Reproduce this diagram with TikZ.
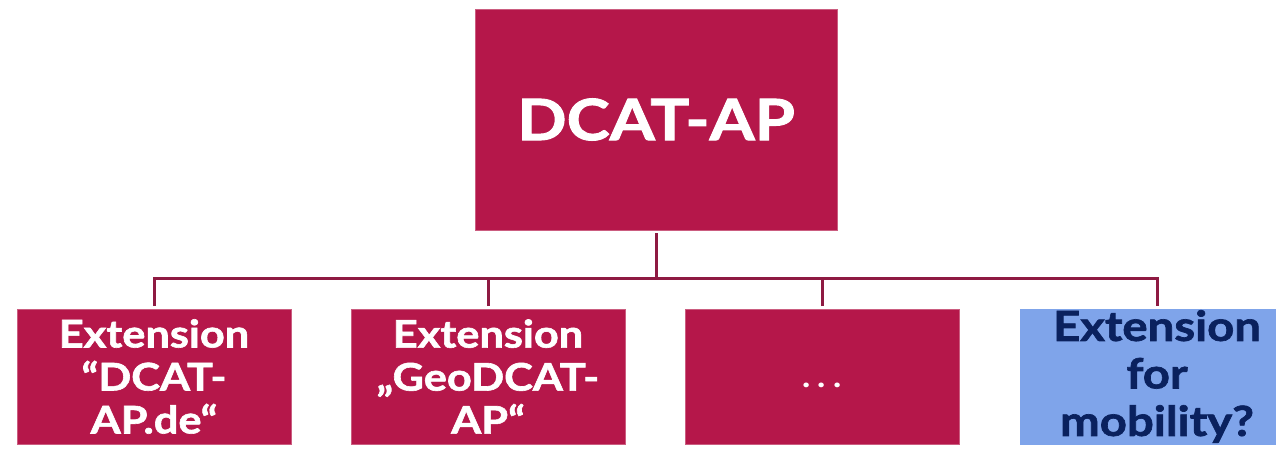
\documentclass[tikz,border=0pt]{standalone}
\usepackage{fontspec}
\setmainfont{Lato}[FakeStretch=1.14, BoldFeatures={FakeBold=1.6}]
\definecolor{crim}{HTML}{B5174A}
\definecolor{linecol}{HTML}{8E1A42}
\definecolor{lblue}{HTML}{7FA4EA}
\definecolor{navy}{HTML}{0A215E}
\begin{document}
\begin{tikzpicture}[x=1pt,y=-1pt,
  box/.style={rectangle, fill=crim, draw=crim!70!white, line width=0.6pt, minimum width=274pt, minimum height=135pt, inner sep=0pt, outer sep=3pt, text=white, align=center, font=\bfseries\fontsize{38}{43}\selectfont},
  bluebox/.style={box, fill=lblue, draw=lblue, text=navy, font=\bfseries\fontsize{41.5}{47.5}\selectfont},
  conn/.style={draw=linecol, line width=3pt}]
\clip (0,0) rectangle (1276,450);
\node[box, minimum width=362pt, minimum height=221pt, font=\bfseries\fontsize{57}{60}\selectfont] (top) at (656,119.5) {DCAT-AP};
\node[box] (b1) at (154,376.5) {Extension\\“DCAT-\\AP.de“};
\node[box] (b2) at (488,376.5) {Extension\\„GeoDCAT-\\AP“};
\node[box, font=\fontsize{38}{43}\selectfont] (b3) at (822,376.5) {\raisebox{-11pt}[0pt][0pt]{.\hspace{5pt}.\hspace{5pt}.}};
\node[bluebox] (b4) at (1157,376.5) {\raisebox{-1.5pt}{Extension}\\\raisebox{-1.5pt}{for}\\\raisebox{-1.5pt}{mobility?}};
\coordinate (hub) at (656,278);
\draw[conn] (top.south) -- (hub);
\draw[conn] (b1.north) -- (b1.north |- hub) -- (b4.north |- hub) -- (b4.north);
\draw[conn] (b2.north) -- (b2.north |- hub);
\draw[conn] (b3.north) -- (b3.north |- hub);
\end{tikzpicture}
\end{document}
